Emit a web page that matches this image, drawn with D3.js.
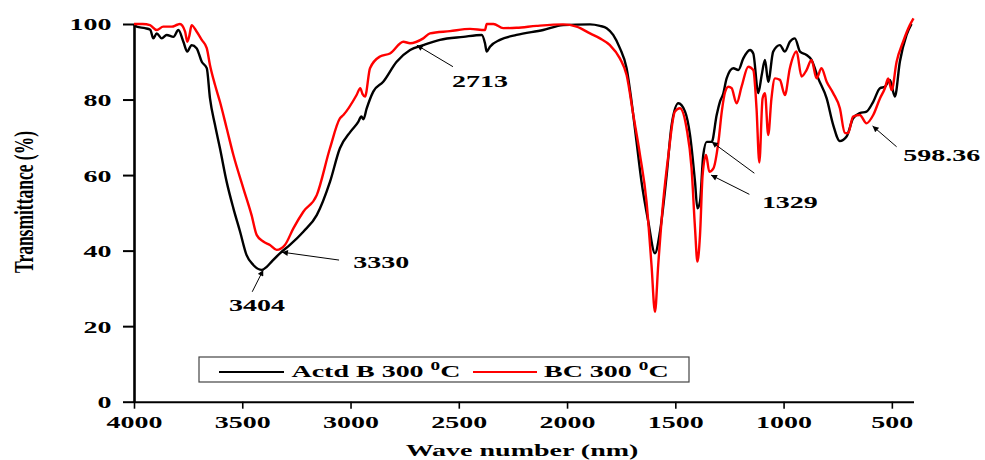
<!DOCTYPE html>
<html>
<head>
  <meta charset="utf-8">
  <title>FTIR Transmittance</title>
  <style>
    html, body {
      margin: 0;
      padding: 0;
      background: #fff;
    }
    svg {
      display: block;
    }
    .lbl {
      font-family: "Liberation Serif", "Times New Roman", serif;
      font-weight: bold;
      font-size: 17.5px;
      fill: #000;
    }
  </style>
</head>
<body>
  <svg id="chart" width="985" height="460"></svg>

  <script src="https://cdnjs.cloudflare.com/ajax/libs/d3/7.8.5/d3.min.js"></script>
  <script>
    // spectra: [wave number, transmittance %]
    const actdB = [
      [4000,100],[3988,99.3],[3949,98.9],[3925,98.5],[3911,96.2],[3895,97.5],[3872,96.2],
      [3849,97.1],[3818,96.6],[3795,98.4],[3772,95.3],[3754,92.7],[3734,94.4],[3711,93.6],
      [3687,90.0],[3664,88.3],[3649,80.3],[3626,73.3],[3603,67.1],[3572,58.2],
      [3541,51.2],[3510,45.0],[3480,38.8],[3449,36.2],[3410,34.9],[3387,35.7],[3364,37.1],
      [3326,39.3],[3280,41.5],[3218,45.0],[3156,49.4],[3095,58.2],[3049,67.1],[3000,71.5],
      [2965,74.0],[2950,75.5],[2940,74.8],[2926,77.5],[2895,82.1],[2849,84.7],[2787,90.0],
      [2725,93.1],[2664,94.4],[2587,95.8],[2479,96.6],[2394,97.1],[2379,94.9],[2371,92.7],
      [2356,94.0],[2310,95.8],[2233,97.1],[2110,98.4],[2018,99.7],[1894,99.9],[1848,99.5],
      [1817,98.9],[1787,97.1],[1756,93.6],[1725,88.3],[1702,79.4],[1679,68.8],[1656,58.2],
      [1625,47.7],[1594,39.3],[1571,45.0],[1540,60.0],[1517,73.3],[1486,79.0],[1455,76.8],
      [1432,70.6],[1409,58.2],[1398,51.2],[1386,53.0],[1371,65.3],[1355,68.8],[1332,68.8],
      [1309,75.9],[1294,79.4],[1279,81.5],[1263,85.6],[1232,88.3],[1209,87.8],[1186,90.9],
      [1155,93.1],[1140,92.2],[1117,81.7],[1101,86.5],[1086,90.5],[1071,84.7],[1048,92.7],
      [1017,94.4],[994,92.7],[971,95.3],[948,96.2],[924,92.7],[894,91.8],[871,90.5],
      [840,85.6],[801,80.3],[771,73.3],[740,69.0],[709,70.2],[679,75.0],[648,76.4],
      [617,76.8],[586,79.4],[555,83.0],[532,83.4],[509,85.2],[486,80.8],[463,90.0],
      [432,97.1],[409,100]
    ];

    const bc = [
      [4000,100],[3960,100],[3926,99.7],[3895,98.4],[3865,99.3],[3826,99.3],[3800,99.8],
      [3788,100],[3764,98.0],[3754,95.3],[3744,97.0],[3734,99.7],[3711,98.0],[3687,95.8],
      [3664,93.6],[3649,89.1],[3626,83.9],[3603,79.4],[3572,72.4],[3541,65.3],[3495,56.5],
      [3457,49.4],[3433,44.1],[3403,42.4],[3372,41.5],[3341,40.2],[3303,41.5],[3264,45.9],
      [3218,50.3],[3156,54.7],[3095,67.1],[3049,75.0],[3033,75.9],[2972,81.2],[2955,83.0],
      [2945,81.5],[2933,80.8],[2910,88.3],[2864,91.4],[2818,92.2],[2756,95.3],[2725,94.9],
      [2664,96.2],[2633,97.5],[2541,98.1],[2448,98.7],[2379,98.4],[2371,100],[2340,100],
      [2295,98.9],[2233,99.0],[2141,99.5],[2018,99.9],[1956,99.3],[1894,97.5],[1848,96.2],
      [1802,94.4],[1756,90.9],[1725,86.5],[1694,75.9],[1663,65.3],[1633,53.0],[1610,36.2],
      [1594,23.8],[1579,36.2],[1556,53.0],[1532,65.3],[1502,76.8],[1479,77.7],[1448,72.4],
      [1425,61.8],[1409,45.9],[1398,37.1],[1386,44.1],[1374,60.0],[1358,65.3],[1343,60.9],
      [1324,61.8],[1301,68.8],[1285,77.0],[1270,82.0],[1255,83.4],[1240,83.0],[1217,79.0],
      [1194,83.4],[1163,88.7],[1140,87.8],[1125,77.7],[1112,63.3],[1097,80.3],[1086,81.7],
      [1071,70.6],[1056,80.3],[1040,85.6],[1017,85.2],[994,81.2],[971,88.3],[940,92.7],
      [917,86.1],[894,87.8],[871,90.5],[848,85.6],[825,88.3],[801,84.7],[771,81.7],
      [740,77.7],[717,71.1],[702,71.1],[679,75.5],[648,75.9],[617,73.7],[586,75.9],
      [555,80.3],[532,83.0],[517,85.6],[501,82.5],[478,90.0],[448,95.3],[417,99.7],[400,101.5]
    ];

    const xTicks = [4000, 3500, 3000, 2500, 2000, 1500, 1000, 500];
    const xMinor = [3750, 3250, 2750, 2250, 1750, 1250, 750];
    const yTicks = [0, 20, 40, 60, 80, 100];
    const yMinor = [10, 30, 50, 70, 90];

    const seriesNames = ["Actd B 300 ", "BC 300 "];
    const seriesColors = ["#000000", "#ff0000"];

    // peak labels: text anchor point and arrow from -> to, in data units
    const peaks = [
      { text: "3404", at: [3432, 24.0], anchor: "middle", arrows: [[[3454, 29.1], [3403, 34.9]]] },
      { text: "3330", at: [2987, 35.4], anchor: "start", arrows: [[[3053, 37.5], [3317, 39.6]]] },
      { text: "2713", at: [2402, 83.3], anchor: "middle", arrows: [[[2527, 88.7], [2694, 94.4]]] },
      { text: "1329", at: [971, 51.3], anchor: "middle",
        arrows: [[[1135, 60.5], [1332, 68.8]], [[1158, 54.9], [1335, 60.0]]] },
      { text: "598.36", at: [447, 63.7], anchor: "start", arrows: [[[478, 67.5], [589, 73.0]]] }
    ];

    const stretch = 1.6; // the figure's lettering is widened horizontally

    const svg = d3.select("#chart");
    const x = d3.scaleLinear().domain([4000, 400]).range([134, 913.5]);
    const y = d3.scaleLinear().domain([0, 100]).range([401.7, 24]);

    svg.append("defs").append("marker")
      .attr("id", "head")
      .attr("viewBox", "0 0 10 10")
      .attr("refX", 10).attr("refY", 5)
      .attr("markerWidth", 9).attr("markerHeight", 6)
      .attr("markerUnits", "userSpaceOnUse")
      .attr("orient", "auto")
      .append("path")
      .attr("d", "M0,0 L10,5 L0,10 Z")
      .attr("fill", "#000");

    function wideText(parent, px, py, anchor) {
      return parent.append("g")
        .attr("transform", `translate(${px},${py}) scale(${stretch},1)`)
        .append("text")
        .attr("class", "lbl")
        .attr("text-anchor", anchor);
    }

    // x axis
    const xAxis = svg.append("g").attr("transform", `translate(0,${y(0)})`);
    xAxis.call(d3.axisBottom(x).tickValues(xMinor).tickSize(4).tickSizeOuter(0).tickFormat(""));
    xAxis.call(d3.axisBottom(x).tickValues(xTicks).tickSize(7).tickSizeOuter(0).tickFormat(d3.format("d")));
    xAxis.selectAll(".tick text")
      .attr("class", "lbl")
      .attr("y", 26.6).attr("dy", null)
      .attr("transform", `scale(${stretch},1)`);
    xAxis.selectAll("path.domain").attr("stroke-width", 2);
    xAxis.selectAll(".tick line").attr("stroke-width", 1.6);

    // y axis
    const yAxis = svg.append("g").attr("transform", `translate(${x(4000)},0)`);
    yAxis.call(d3.axisLeft(y).tickValues(yMinor).tickSize(7).tickSizeOuter(0).tickFormat(""));
    yAxis.call(d3.axisLeft(y).tickValues(yTicks).tickSize(11).tickSizeOuter(0));
    yAxis.selectAll(".tick text")
      .attr("class", "lbl")
      .attr("x", -22.5 / stretch).attr("dy", "0.34em")
      .attr("transform", `scale(${stretch},1)`);
    yAxis.selectAll("path.domain").attr("stroke-width", 2.6);
    yAxis.selectAll(".tick line").attr("stroke-width", 2);

    // axis titles
    wideText(svg, 522, 456, "middle").text("Wave number (nm)");
    svg.append("g")
      .attr("transform", `translate(33,202) scale(${stretch},1) rotate(-90)`)
      .append("text")
      .attr("class", "lbl")
      .attr("text-anchor", "middle")
      .text("Transmittance (%)");

    // spectra
    const line = d3.line()
      .x(d => x(d[0]))
      .y(d => y(d[1]))
      .curve(d3.curveMonotoneX);

    [actdB, bc].forEach((s, i) => {
      svg.append("path")
        .datum(s)
        .attr("d", line)
        .attr("fill", "none")
        .attr("stroke", seriesColors[i])
        .attr("stroke-width", 2.4)
        .attr("stroke-linejoin", "round");
    });

    // peak annotations
    peaks.forEach(p => {
      p.arrows.forEach(a => {
        svg.append("line")
          .attr("x1", x(a[0][0])).attr("y1", y(a[0][1]))
          .attr("x2", x(a[1][0])).attr("y2", y(a[1][1]))
          .attr("stroke", "#000")
          .attr("stroke-width", 1)
          .attr("marker-end", "url(#head)");
      });
      wideText(svg, x(p.at[0]), y(p.at[1]), p.anchor).text(p.text);
    });

    // legend
    const legend = svg.append("g");
    legend.append("rect")
      .attr("x", 199).attr("y", 357)
      .attr("width", 490).attr("height", 25)
      .attr("fill", "#fff")
      .attr("stroke", "#444")
      .attr("stroke-width", 1.2);
    const legendX = [[219, 284, 291.5], [473, 537, 544]];
    seriesNames.forEach((name, i) => {
      legend.append("line")
        .attr("x1", legendX[i][0]).attr("x2", legendX[i][1])
        .attr("y1", 372).attr("y2", 372)
        .attr("stroke", seriesColors[i])
        .attr("stroke-width", 2);
      const t = wideText(legend, legendX[i][2], 377, "start");
      t.append("tspan").text(name);
      t.append("tspan").attr("dy", -7).style("font-size", "12px").text("0");
      t.append("tspan").attr("dy", 7).text("C");
    });
  </script>
</body>
</html>
